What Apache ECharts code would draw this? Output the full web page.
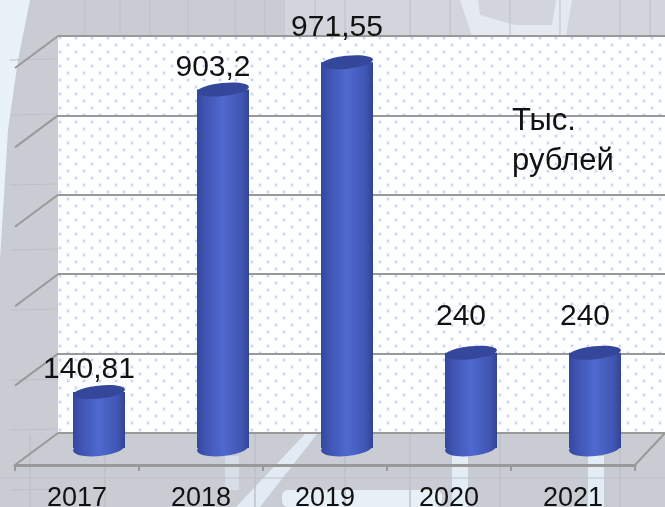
<!DOCTYPE html>
<html><head><meta charset="utf-8">
<style>html,body{margin:0;padding:0;background:#c9ccd3;overflow:hidden}#c{width:665px;height:507px}</style>
<script src="https://cdn.jsdelivr.net/npm/echarts@6/dist/echarts.min.js"></script>
</head><body><div id="c"></div>
<script>
const categories = ['2017','2018','2019','2020','2021'];
const values = [140.81, 903.2, 971.55, 240, 240];
const valueLabels = ['140,81','903,2','971,55','240','240'];
const wallTicks = [0,200,400,600,800,1000];
const unitLines = ['Тыс.','рублей'];

// layout of the pseudo-3D scene
const depth = {dx:43, dy:-32};
const barShift = {dx:22, dy:-17};
const labelLift = [7,7,20,21,21];
const labelFont = '30px "Liberation Sans"';

function dotPattern(){
  const t=document.createElement('canvas');t.width=16;t.height=14;
  const g=t.getContext('2d');g.fillStyle='#fdfeff';g.fillRect(0,0,16,14);
  [[3,2],[11,9]].forEach(([x,y])=>{
    g.fillStyle='rgba(130,150,225,.10)';g.fillRect(x-1,y-1,4,4);
    g.fillStyle='rgba(120,140,225,.3)';g.fillRect(x,y,2,2);
  });
  return t;
}
const cylinderFill={type:'linear',x:0,y:0,x2:1,y2:0,colorStops:[
  {offset:0,color:'#34479b'},{offset:.15,color:'#3f54b2'},{offset:.5,color:'#4f69cf'},{offset:.85,color:'#4056b4'},{offset:1,color:'#324494'}]};

function drawCylinder(params,api){
  const i=api.value(0), v=api.value(1);
  const base=api.coord([i,0]), top=api.coord([i,v]);
  const cx=base[0]+barShift.dx, by=base[1]+barShift.dy, ty=top[1]+barShift.dy;
  const rx=26, tilt=6*Math.PI/180;
  const ell=(y,ry,fill)=>({type:'ellipse',shape:{cx:0,cy:0,rx,ry},x:cx,y,rotation:tilt,style:{fill}});
  return {type:'group',children:[
    ell(by,8,cylinderFill),
    {type:'rect',shape:{x:cx-rx,y:ty,width:rx*2,height:by-ty},style:{fill:cylinderFill}},
    ell(ty,6.5,'#34479b'),
    {type:'text',x:cx-10,y:ty-labelLift[i],style:{text:valueLabels[i],font:labelFont,fill:'#111',align:'center',verticalAlign:'bottom'},z2:5}
  ]};
}
function drawDepthLine(params,api){
  const p=api.coord([0,api.value(0)]);
  return {type:'line',shape:{x1:p[0],y1:p[1],x2:p[0]-depth.dx,y2:p[1]-depth.dy},style:{stroke:'#999',lineWidth:2}};
}

const bgShapes=[
  {type:'polygon',shape:{points:[[0,0],[30,0],[18,60],[8,130],[0,260]]},style:{fill:'#e9f2f9'},z:-19},
  {type:'polygon',shape:{points:[[285,0],[665,0],[665,36],[285,36]]},style:{fill:'#d2d6dc'},z:-19},
  {type:'polygon',shape:{points:[[305,434],[317,434],[260,507],[236,507]]},style:{fill:'#e2ebf3'},z:-18},
  {type:'rect',shape:{x:282,y:490,width:160,height:17,r:6},style:{fill:'#e8f0f7'},z:-18},
  {type:'rect',shape:{x:452,y:456,width:16,height:51},style:{fill:'#e3edf6'},z:-18},
  {type:'rect',shape:{x:588,y:456,width:16,height:51},style:{fill:'#e3edf6'},z:-18},
  {type:'rect',shape:{x:225,y:456,width:14,height:34},style:{fill:'#d6dee8'},z:-18},
  {type:'polygon',shape:{points:[[460,0],[478,0],[480,15],[515,25],[552,25],[556,0],[572,0],[566,36],[472,36]]},style:{fill:'#e4eaf0'},z:-18}
];
const bgLines=[];
[85,120,150,188,235,265,315,345,410,450,510,560,620,650].forEach(x=>bgLines.push({type:'line',shape:{x1:x,y1:0,x2:x,y2:36},style:{stroke:'#bdc0c7',lineWidth:1},z:-17}));
[60,115,185,250,310,380,430,490].forEach(y=>bgLines.push({type:'line',shape:{x1:10,y1:y,x2:58,y2:y-1},style:{stroke:'#bdc0c7',lineWidth:1},z:-17}));
[30,105,255,345,410,500,620].forEach(x=>bgLines.push({type:'line',shape:{x1:x,y1:434,x2:x,y2:507},style:{stroke:'#bec1c8',lineWidth:1.5},z:-17}));
bgLines.push({type:'line',shape:{x1:0,y1:478,x2:665,y2:478},style:{stroke:'#bec1c8',lineWidth:1},z:-17});

const chart=echarts.init(document.getElementById('c'),null,{renderer:'canvas'});
chart.setOption({
  animation:false,
  backgroundColor:'transparent',
  graphic:{elements:[
    {type:'rect',shape:{x:58,y:36,width:607,height:397},style:{fill:{image:dotPattern(),repeat:'repeat'}},z:-15},
    ...bgShapes,...bgLines,
    {type:'polyline',shape:{points:[[665,433],[635,465]]},style:{stroke:'#999',lineWidth:2},z:1},
    {type:'text',x:512,y:101,style:{text:unitLines.join('\n'),font:'31px "Liberation Sans"',lineHeight:40,fill:'#111'},z:20}
  ]},
  grid:[
    {left:15,width:620,top:68,height:397,outerBoundsMode:'none'},
    {left:58,right:0,top:36,height:397,outerBoundsMode:'none'}
  ],
  xAxis:[
    {type:'category',gridIndex:0,data:categories,
     axisLine:{lineStyle:{color:'#999',width:3}},
     axisTick:{show:true,length:6,lineStyle:{color:'#999',width:2}},
     axisLabel:{color:'#111',fontSize:27,fontFamily:'"Liberation Sans"',margin:20}},
    {type:'value',gridIndex:1,min:0,max:1,show:false}
  ],
  yAxis:[
    {type:'value',gridIndex:0,min:0,max:1000,interval:200,show:false},
    {type:'value',gridIndex:1,min:0,max:1000,interval:200,
     axisLine:{show:false},axisTick:{show:false},axisLabel:{show:false},
     splitLine:{show:true,lineStyle:{color:'#999',width:2}}}
  ],
  series:[
    {type:'custom',xAxisIndex:1,yAxisIndex:1,data:wallTicks.map(v=>[v]),encode:{y:0},renderItem:drawDepthLine,silent:true,z:1,clip:false},
    {type:'custom',xAxisIndex:0,yAxisIndex:0,data:categories.map((c,i)=>[i,values[i]]),encode:{x:0,y:1},renderItem:drawCylinder,z:5,clip:false}
  ]
});
</script></body></html>
